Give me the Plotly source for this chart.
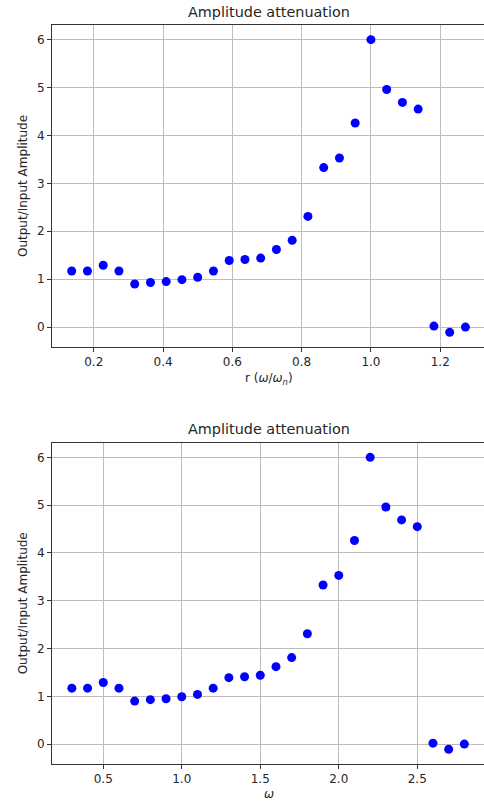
import plotly.graph_objects as go
from plotly.subplots import make_subplots

# ---- data ----
omega = [0.3, 0.4, 0.5, 0.6, 0.7, 0.8, 0.9, 1.0, 1.1, 1.2, 1.3, 1.4, 1.5,
         1.6, 1.7, 1.8, 1.9, 2.0, 2.1, 2.2, 2.3, 2.4, 2.5, 2.6, 2.7, 2.8]
amplitude_ratio = [1.17, 1.17, 1.29, 1.17, 0.90, 0.93, 0.95, 0.99, 1.04, 1.17,
                   1.39, 1.41, 1.44, 1.62, 1.81, 2.31, 3.33, 3.53, 4.26, 6.00,
                   4.96, 4.69, 4.55, 0.02, -0.11, 0.00]
omega_n = 2.2
r = [w / omega_n for w in omega]

title_text = "Amplitude attenuation"
ylabel = "Output/Input Amplitude"
xlabel_top = "r (<i>ω</i>/<i>ω</i><sub><i>n</i></sub>)"
xlabel_bottom = "<i>ω</i>"

W, H = 484, 802
FONT = "DejaVu Sans"

fig = make_subplots(rows=2, cols=1)

fig.add_trace(go.Scatter(x=r, y=amplitude_ratio, mode="markers",
                         marker=dict(color="#0000ff", size=9, line=dict(width=0)),
                         showlegend=False), row=1, col=1)
fig.add_trace(go.Scatter(x=omega, y=amplitude_ratio, mode="markers",
                         marker=dict(color="#0000ff", size=9, line=dict(width=0)),
                         showlegend=False), row=2, col=1)

# pixel geometry (from top)
top1, bot1 = 25, 347
top2, bot2 = 442.7, 764
left = 52

def dom(t, b):
    return [1 - b / H, 1 - t / H]

axis_common = dict(
    showgrid=True, gridcolor="#bdbdbd", gridwidth=1,
    zeroline=False, showline=True, linecolor="#333333", linewidth=1,
    ticks="outside", ticklen=4, tickwidth=1, tickcolor="#333333",
    tickfont=dict(family=FONT, size=12, color="#262626"),
    automargin=False,
)

fig.update_layout(
    width=W, height=H,
    margin=dict(l=left, r=0, t=0, b=0),
    paper_bgcolor="white", plot_bgcolor="white",
    font=dict(family=FONT, color="#262626"),
    xaxis=dict(axis_common, domain=[0, 1], range=[0.0795, 1.3263],
               tickvals=[0.2, 0.4, 0.6, 0.8, 1.0, 1.2], tickformat=".1f",
               mirror=True),
    yaxis=dict(axis_common, domain=dom(top1, bot1), range=[-0.416, 6.306],
               tickvals=[0, 1, 2, 3, 4, 5, 6], mirror=False),
    xaxis2=dict(axis_common, domain=[0, 1], range=[0.1735, 2.925],
                tickvals=[0.5, 1.0, 1.5, 2.0, 2.5], tickformat=".1f",
                mirror=True),
    yaxis2=dict(axis_common, domain=dom(top2, bot2), range=[-0.416, 6.306],
                tickvals=[0, 1, 2, 3, 4, 5, 6], mirror=False),
)

def px_y(y):
    return 1 - y / H

def px_x(x):
    return (x - left) / (W - left)

anns = [
    dict(text=title_text, x=px_x(268.5), y=px_y(12), size=14.4),
    dict(text=title_text, x=px_x(268.5), y=px_y(429), size=14.4),
    dict(text=xlabel_top, x=px_x(268.5), y=px_y(379), size=12),
    dict(text=xlabel_bottom, x=px_x(268.5), y=px_y(794), size=12),
    dict(text=ylabel, x=px_x(23), y=px_y((top1 + bot1) / 2), size=12, textangle=-90),
    dict(text=ylabel, x=px_x(23), y=px_y((top2 + bot2) / 2), size=12, textangle=-90),
]
for a in anns:
    fig.add_annotation(xref="paper", yref="paper", showarrow=False,
                       xanchor="center", yanchor="middle",
                       font=dict(family=FONT, color="#262626", size=a["size"]),
                       text=a["text"], x=a["x"], y=a["y"],
                       textangle=a.get("textangle", 0))

fig.write_html("out.html",
               config={"displayModeBar": False},
               post_script="document.body.style.margin='0';document.body.style.overflow='hidden';")
